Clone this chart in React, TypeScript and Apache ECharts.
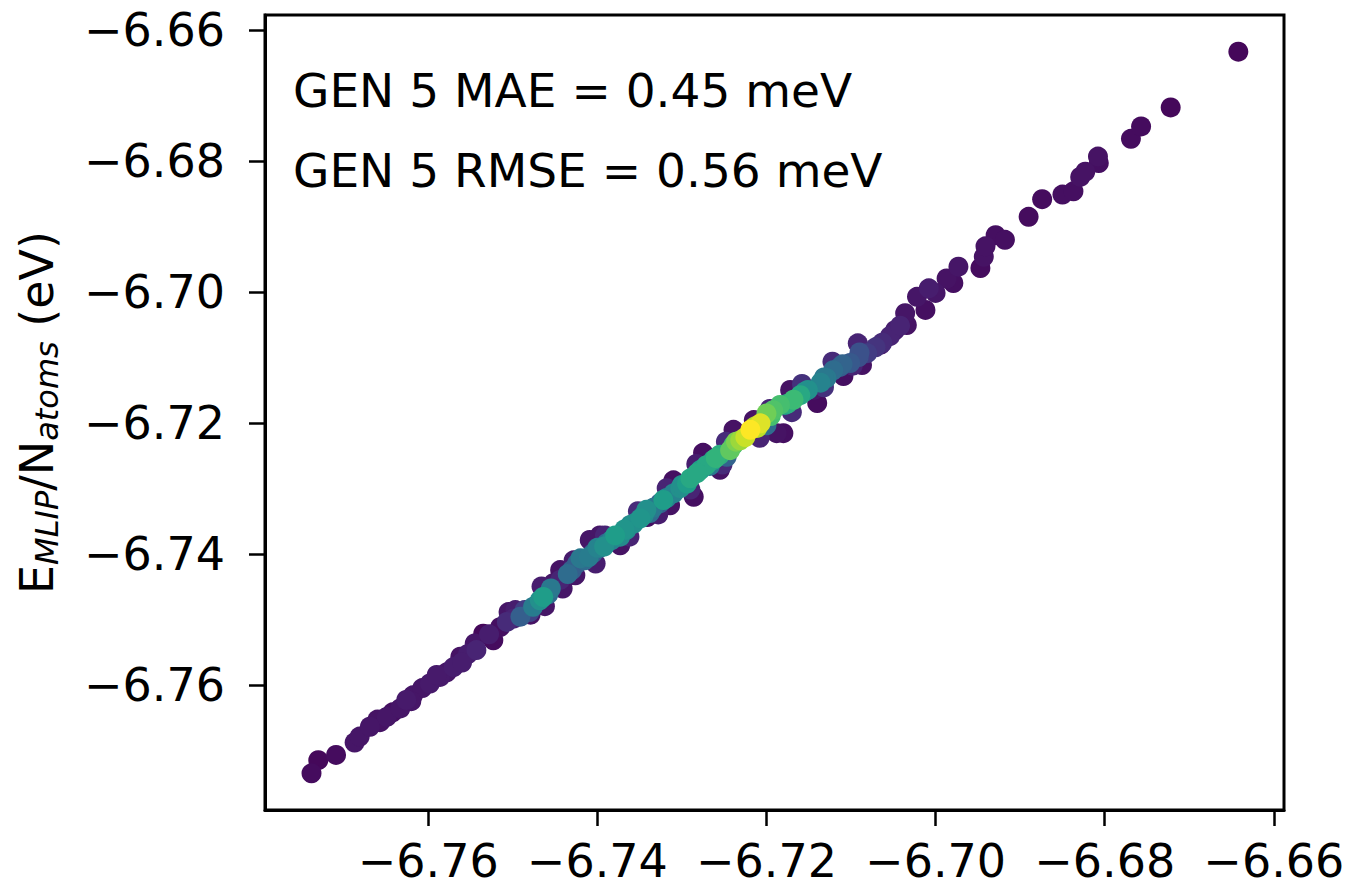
import React, { useEffect, useRef } from "react";
import * as echarts from "echarts";

// DFT energy per atom (x), MLIP energy per atom (y), point density (colour, 0..1)
const xDft: number[] = [
  -6.7738, -6.7730, -6.7709, -6.7687, -6.7681, -6.7669, -6.7657, -6.7649, -6.7642, -6.7633,
  -6.7626, -6.7618, -6.7607, -6.7598, -6.7586, -6.7578, -6.7570, -6.7562, -6.7553, -6.7543,
  -6.7535, -6.7523, -6.7515, -6.7507, -6.7499, -6.7491, -6.7486, -6.7476, -6.7468, -6.7464,
  -6.7458, -6.7452, -6.7444, -6.7436, -6.7430, -6.7424, -6.7415, -6.7405, -6.7397, -6.7389,
  -6.7383, -6.7373, -6.7366, -6.7357, -6.7349, -6.7342, -6.7334, -6.7326, -6.7318, -6.7310,
  -6.7302, -6.7294, -6.7286, -6.7278, -6.7271, -6.7263, -6.7255, -6.7247, -6.7239, -6.7231,
  -6.7225, -6.7219, -6.7211, -6.7200, -6.7188, -6.7215, -6.7200, -6.7192, -6.7184, -6.7168,
  -6.7160, -6.7144, -6.7140, -6.7136, -6.7129, -6.7121, -6.7113, -6.7101, -6.7091, -6.7081,
  -6.7310, -6.7275, -6.7239, -6.7341, -6.7373, -6.7409, -6.7444, -6.7180, -6.7109, -6.7087,
  -6.7172, -6.7255, -6.7314, -6.7397, -6.7071, -6.7063, -6.7054, -6.7048, -6.7042, -6.7036,
  -6.7034, -6.7022, -6.7012, -6.7008, -6.7000, -6.6987, -6.6979, -6.6973, -6.6943, -6.6947,
  -6.6941, -6.6929, -6.6918, -6.6890, -6.6874, -6.6850, -6.6837, -6.6829, -6.6823, -6.6808,
  -6.6807, -6.6769, -6.6757, -6.6722, -6.6642, -6.7420, -6.7400, -6.7379, -6.7361, -6.7338,
  -6.7290, -6.7267, -6.7243, -6.7207, -6.7178, -6.7151, -6.7480, -6.7497, -6.7462, -6.7426,
  -6.7505, -6.7466, -6.7428, -6.7391, -6.7352, -6.7318, -6.7283, -6.7248, -6.7196, -6.7158,
  -6.7122, -6.7092, -6.7479, -6.7441, -6.7402, -6.7362, -6.7328, -6.7290, -6.7252, -6.7208,
  -6.7170, -6.7132, -6.7098, -6.7065, -6.7455, -6.7435, -6.7410, -6.7392, -6.7368, -6.7345,
  -6.7322, -6.7300, -6.7282, -6.7260, -6.7236, -6.7214, -6.7195, -6.7175, -6.7155, -6.7132,
  -6.7110, -6.7090, -6.7660, -6.7620, -6.7590, -6.7560, -6.7528, -6.7545,
];
const yMlip: number[] = [
  -6.7734, -6.7714, -6.7706, -6.7687, -6.7678, -6.7663, -6.7656, -6.7648, -6.7641, -6.7635,
  -6.7622, -6.7615, -6.7604, -6.7597, -6.7587, -6.7580, -6.7572, -6.7556, -6.7552, -6.7546,
  -6.7521, -6.7531, -6.7511, -6.7503, -6.7498, -6.7495, -6.7485, -6.7480, -6.7470, -6.7465,
  -6.7461, -6.7444, -6.7439, -6.7434, -6.7424, -6.7414, -6.7409, -6.7398, -6.7390, -6.7383,
  -6.7378, -6.7373, -6.7363, -6.7353, -6.7345, -6.7332, -6.7329, -6.7322, -6.7314, -6.7307,
  -6.7299, -6.7292, -6.7312, -6.7271, -6.7264, -6.7256, -6.7248, -6.7251, -6.7233, -6.7226,
  -6.7221, -6.7210, -6.7207, -6.7203, -6.7215, -6.7195, -6.7185, -6.7180, -6.7172, -6.7164,
  -6.7157, -6.7149, -6.7169, -6.7138, -6.7131, -6.7119, -6.7114, -6.7108, -6.7099, -6.7093,
  -6.7287, -6.7245, -6.7210, -6.7343, -6.7386, -6.7378, -6.7424, -6.7215, -6.7128, -6.7111,
  -6.7149, -6.7271, -6.7325, -6.7371, -6.7084, -6.7077, -6.7067, -6.7058, -6.7051, -6.7032,
  -6.7050, -6.7007, -6.7027, -6.6994, -6.7001, -6.6979, -6.6986, -6.6961, -6.6946, -6.6963,
  -6.6930, -6.6913, -6.6920, -6.6885, -6.6858, -6.6851, -6.6846, -6.6824, -6.6816, -6.6793,
  -6.6803, -6.6766, -6.6747, -6.6718, -6.6633, -6.7406, -6.7390, -6.7371, -6.7355, -6.7337,
  -6.7284, -6.7265, -6.7241, -6.7200, -6.7172, -6.7149, -6.7488, -6.7485, -6.7479, -6.7432,
  -6.7488, -6.7449, -6.7409, -6.7371, -6.7334, -6.7299, -6.7262, -6.7228, -6.7178, -6.7140,
  -6.7106, -6.7078, -6.7492, -6.7452, -6.7414, -6.7373, -6.7339, -6.7301, -6.7263, -6.7222,
  -6.7183, -6.7145, -6.7112, -6.7080, -6.7452, -6.7430, -6.7404, -6.7388, -6.7362, -6.7340,
  -6.7317, -6.7294, -6.7276, -6.7253, -6.7228, -6.7205, -6.7189, -6.7170, -6.7152, -6.7130,
  -6.7110, -6.7092, -6.7652, -6.7624, -6.7584, -6.7565, -6.7522, -6.7536,
];
const density: number[] = [
  0.03, 0.02, 0.03, 0.06, 0.06, 0.06, 0.05, 0.06, 0.04, 0.06,
  0.07, 0.06, 0.06, 0.07, 0.07, 0.06, 0.08, 0.05, 0.08, 0.10,
  0.02, 0.03, 0.04, 0.12, 0.10, 0.30, 0.18, 0.42, 0.50, 0.55,
  0.35, 0.06, 0.10, 0.05, 0.30, 0.30, 0.35, 0.30, 0.40, 0.35,
  0.45, 0.48, 0.50, 0.50, 0.52, 0.50, 0.40, 0.30, 0.45, 0.45,
  0.50, 0.55, 0.04, 0.55, 0.60, 0.58, 0.62, 0.32, 0.70, 0.85,
  0.92, 1.00, 0.90, 0.35, 0.05, 0.05, 0.78, 0.72, 0.70, 0.68,
  0.60, 0.06, 0.03, 0.45, 0.40, 0.35, 0.30, 0.28, 0.25, 0.18,
  0.04, 0.04, 0.05, 0.04, 0.05, 0.06, 0.05, 0.04, 0.04, 0.05,
  0.05, 0.05, 0.05, 0.06, 0.15, 0.12, 0.10, 0.08, 0.10, 0.06,
  0.05, 0.06, 0.04, 0.08, 0.06, 0.05, 0.04, 0.06, 0.05, 0.03,
  0.05, 0.04, 0.04, 0.03, 0.03, 0.04, 0.04, 0.05, 0.05, 0.05,
  0.04, 0.03, 0.03, 0.02, 0.02, 0.40, 0.45, 0.55, 0.48, 0.35,
  0.60, 0.40, 0.75, 0.95, 0.55, 0.50, 0.20, 0.08, 0.06, 0.06,
  0.06, 0.08, 0.07, 0.10, 0.12, 0.10, 0.08, 0.12, 0.10, 0.14,
  0.12, 0.10, 0.05, 0.06, 0.08, 0.10, 0.08, 0.10, 0.12, 0.10,
  0.12, 0.14, 0.10, 0.08, 0.40, 0.35, 0.42, 0.50, 0.52, 0.48,
  0.55, 0.50, 0.60, 0.65, 0.80, 0.88, 0.70, 0.62, 0.50, 0.40,
  0.32, 0.25, 0.05, 0.06, 0.07, 0.08, 0.08, 0.06,
];

const tickValues: number[] = [-6.76, -6.74, -6.72, -6.7, -6.68, -6.66];
const annotations: string[] = ["GEN 5 MAE = 0.45 meV", "GEN 5 RMSE = 0.56 meV"];
const viridis: string[] = [
  "#440154", "#482878", "#3e4989", "#31688e", "#26828e",
  "#1f9e89", "#35b779", "#6ece58", "#b5de2b", "#fde725",
];

const FONT = "DejaVu Sans";
const fmt = (v: number) => "\u2212" + Math.abs(v).toFixed(2);

export default function App() {
  const ref = useRef<HTMLDivElement>(null);
  useEffect(() => {
    if (!ref.current) return;
    const chart = echarts.init(ref.current, undefined, { renderer: "svg" });
    const pts = xDft.map((x, i) => [x, yMlip[i], density[i]]);
    pts.sort((a, b) => a[2] - b[2]);
    const axisCommon = {
      type: "value" as const,
      scale: true,
      splitLine: { show: false },
      axisLine: { show: true, onZero: false, lineStyle: { color: "#000", width: 3 } },
      axisTick: {
        show: true,
        inside: false,
        length: 16,
        lineStyle: { color: "#000", width: 2.5 },
        customValues: tickValues,
      },
    };
    chart.setOption({
      animation: false,
      backgroundColor: "#fff",
      grid: {
        left: 265,
        right: 66,
        top: 15,
        bottom: 77,
        show: true,
        borderColor: "#000",
        borderWidth: 3,
        backgroundColor: "transparent",
      },
      xAxis: {
        ...axisCommon,
        min: -6.7793,
        max: -6.6588,
        axisLabel: {
          fontFamily: FONT,
          fontSize: 46,
          lineHeight: 46,
          color: "#000",
          margin: 28,
          formatter: fmt,
          customValues: tickValues,
        },
      },
      yAxis: {
        ...axisCommon,
        min: -6.779,
        max: -6.6577,
        name: "{m|E}{s|MLIP}{m|/N}{s|atoms}{m| (eV)}",
        nameLocation: "middle",
        nameRotate: 90,
        nameGap: 200,
        nameTextStyle: {
          fontFamily: FONT,
          fontSize: 46,
          color: "#000",
          rich: {
            m: { fontFamily: FONT, fontSize: 46, color: "#000", lineHeight: 56 },
            s: {
              fontFamily: FONT,
              fontSize: 32,
              fontStyle: "italic",
              color: "#000",
              lineHeight: 32,
              padding: [20, 0, 0, 0],
            },
          },
        },
        axisLabel: {
          fontFamily: FONT,
          fontSize: 46,
          color: "#000",
          margin: 40,
          formatter: fmt,
          customValues: tickValues,
        },
      },
      visualMap: {
        show: false,
        type: "continuous",
        min: 0,
        max: 1,
        dimension: 2,
        inRange: { color: viridis },
      },
      graphic: annotations.map((t, i) => ({
        type: "text",
        left: 293,
        top: 67 + i * 80,
        style: { text: t, fontFamily: FONT, fontSize: 47, fill: "#000" },
      })),
      series: [
        {
          type: "scatter",
          symbol: "circle",
          symbolSize: 20,
          data: pts,
          itemStyle: { opacity: 1 },
        },
      ],
    });
    return () => chart.dispose();
  }, []);
  return (
    <div
      ref={ref}
      style={{ position: "absolute", left: 0, top: 0, width: 1350, height: 887 }}
    />
  );
}
